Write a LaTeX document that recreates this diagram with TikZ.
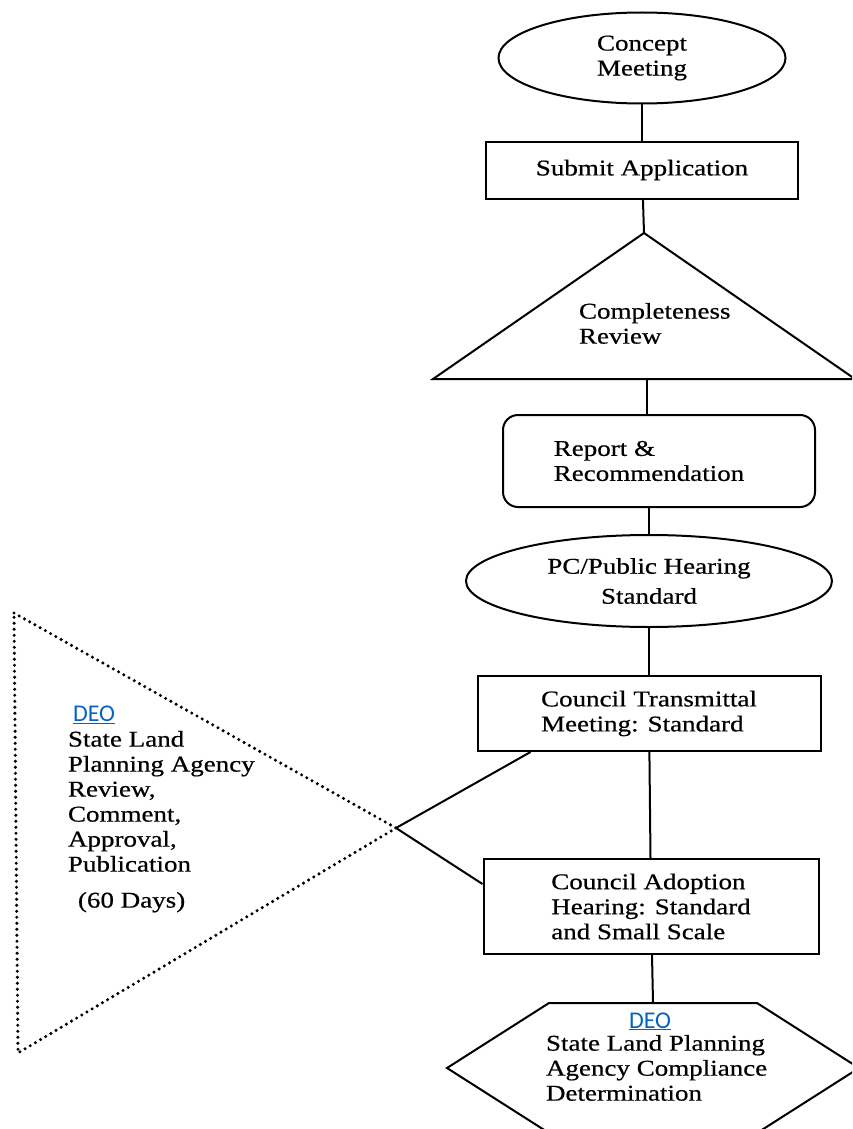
\documentclass[tikz,border=0pt]{standalone}
\usepackage{fontspec}
\setmainfont{Liberation Serif}[FakeStretch=1.2, FakeBold=0.6]
\newfontfamily\deofont{Carlito}
\usepackage{tikz}
\usetikzlibrary{positioning, shapes}

\definecolor{deoblue}{RGB}{5,99,193}
\newcommand\deolink{{\deofont\fontsize{24}{25}\selectfont\color{deoblue}\underline{DEO}}}

\tikzset{
	stepbox/.style={draw, rectangle, align=center},
	dotline/.style={line width=3.4pt, line cap=round, dash pattern=on 0pt off 6pt}
}

\begin{document}
\begin{tikzpicture}[x=1pt, y=-1pt, line width=2pt,
	every node/.style={font=\fontsize{22.5}{25}\selectfont, inner sep=0pt}]

\useasboundingbox (0,0) rectangle (852,1129);
\clip (0,0) rectangle (852,1129);

% top level
\node [draw, ellipse, align=center, minimum width=287pt, minimum height=91pt] (concept) at (642,58) {
	Concept\\Meeting};
\node [stepbox, below=36pt of concept, minimum width=312pt, minimum height=57pt] (submit) {
	Submit Application};

\path [draw] (concept) edge (submit);

% completeness triangle
\coordinate (crtop)   at (644,233);
\coordinate (crleft)  at (433,379);
\coordinate (crright) at (855,379);
\coordinate (crbase)  at (647,379);
\draw (crtop) -- (crleft) -- (crright) -- cycle;
\node [anchor=north west, align=left] (complete) at (578,302) {
	Completeness\\Review};

\path [draw] (submit) edge (crtop);

% next level
\node [stepbox, rounded corners=15pt, align=left, minimum width=312pt, minimum height=92pt] (report) at (659,461) {
	Report \&\\Recommendation\hspace*{20pt}};
\node [draw, ellipse, align=center, below=26pt of report, xshift=-10pt, minimum width=366pt, minimum height=92pt] (pc) {
	PC/Public Hearing\\[5pt]Standard};

\path [draw] (crbase) edge (crbase |- report.north);
\path [draw] (report.south -| pc.north) edge (pc.north);

% next level
\node [stepbox, align=left, below=47pt of pc, minimum width=343pt, minimum height=75pt] (transmit) {
	Council Transmittal\\Meeting: Standard};
\node [stepbox, align=left, below=106pt of transmit, xshift=2pt, minimum width=335pt, minimum height=95pt] (adopt) {
	Council Adoption\\Hearing: Standard\\and Small Scale\hspace*{6pt}};

\path [draw] (pc) edge (transmit);
\path [draw] (transmit) edge (adopt);

% state agency review (dotted)
\coordinate (slpatl)  at (14,613);
\coordinate (slpabl)  at (18,1053);
\coordinate (slpatip) at (396,828);
\draw [dotline] (slpatl) -- (slpatip) -- (slpabl) -- cycle;
\node [anchor=north west, align=left] (slpa) at (67,705) {
	\hspace*{5pt}\deolink\\State Land\\Planning Agency\\Review,\\Comment,\\Approval,\\Publication\\[11pt]\hspace*{10pt}(60 Days)};

\path [draw] (slpatip) edge ([xshift=54pt]transmit.south west);
\path [draw] (slpatip) edge ([yshift=-26pt]adopt.north west);

% compliance hexagon
\coordinate (hexnw) at (549,1003);
\coordinate (hexne) at (757,1003);
\coordinate (hexe)  at (859,1068);
\coordinate (hexse) at (757,1133);
\coordinate (hexsw) at (549,1133);
\coordinate (hexw)  at (447,1068);
\coordinate (hextop) at (653,1003);
\draw (hexnw) -- (hexne) -- (hexe) -- (hexse) -- (hexsw) -- (hexw) -- cycle;
\node [anchor=base] (deotwo) at (650,1028) {\deolink};
\node [anchor=north west, align=left] (compliance) at (545,1034) {
	State Land Planning\\Agency Compliance\\Determination};

\path [draw] (adopt) edge (hextop);

\end{tikzpicture}
\end{document}
